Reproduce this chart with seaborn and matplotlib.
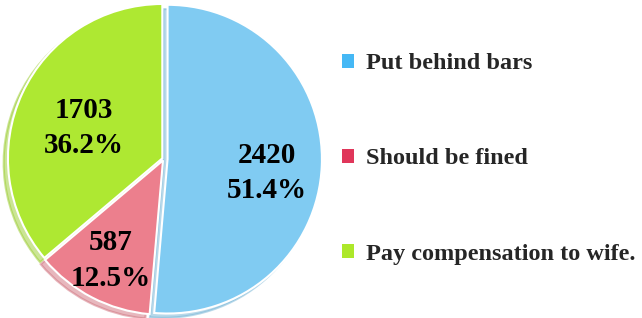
import matplotlib.pyplot as plt
import seaborn as sns
from matplotlib.patches import Patch

# data
categories = ['Put behind bars', 'Should be fined', 'Pay compensation to wife.']
counts = [2420, 587, 1703]
pie_colors = ['#80CBF2', '#EC7F8D', '#AEE832']
legend_colors = ['#45B8F5', '#E0365A', '#ADE82A']
explode = [0.025, 0.01, 0.01]
label_dist = [0.67, 0.74, 0.57]
label_dy = [-0.06, 0.0, -0.04]

sns.set_theme(style='white')
plt.rcParams['font.family'] = ['Liberation Serif', 'DejaVu Serif']

fig = plt.figure(figsize=(6.42, 3.18), dpi=100)
ax = fig.add_axes([0.0, 0.0, 0.51, 1.0])

total = sum(counts)
wedges, texts, autotexts = ax.pie(
    counts, colors=pie_colors, startangle=90, counterclock=False,
    explode=explode, radius=1.0,
    autopct=lambda p: '{:.0f}\n{:.1f}%'.format(p * total / 100, p),
    pctdistance=0.65,
    shadow={'ox': -0.02, 'oy': -0.02, 'shade': 0.12},
    wedgeprops={'edgecolor': 'white', 'linewidth': 1.5},
    textprops={'fontsize': 21, 'fontweight': 'bold', 'color': 'black',
               'linespacing': 1.4})

# nudge the value labels to where they sit in the original
for t, d, dy in zip(autotexts, label_dist, label_dy):
    x, y = t.get_position()
    r = (x ** 2 + y ** 2) ** 0.5
    t.set_position((x * d / r, y * d / r + dy))

ax.set_xlim(-1.06, 1.06)
ax.set_ylim(-1.03, 1.03)
ax.set_aspect('equal')

handles = [Patch(facecolor=c, edgecolor='none') for c in legend_colors]
leg = fig.legend(handles, categories, loc='center left', bbox_to_anchor=(0.498, 0.5),
                 frameon=False, prop={'family': 'Liberation Serif', 'weight': 'bold', 'size': 17.5},
                 handlelength=0.5, handleheight=0.5, handletextpad=0.5,
                 labelspacing=3.05)

fig.savefig('out.png', dpi=100)
